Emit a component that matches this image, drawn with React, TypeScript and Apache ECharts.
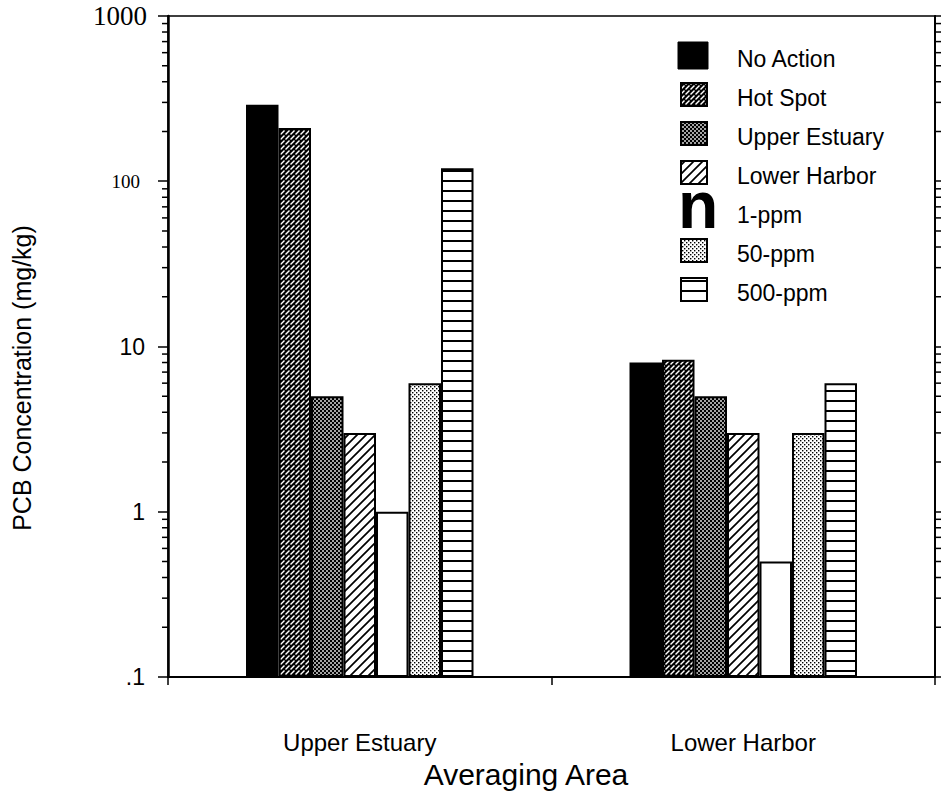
import React, { useEffect, useRef } from "react";
import * as echarts from "echarts";

// Averaging areas on the category axis
const categories = ["Upper Estuary", "Lower Harbor"];

// Remediation alternatives (one bar series each)
const seriesNames = [
  "No Action",
  "Hot Spot",
  "Upper Estuary",
  "Lower Harbor",
  "1-ppm",
  "50-ppm",
  "500-ppm",
];

// PCB concentration per averaging area, in the order of `categories`
const noAction = [290, 8];
const hotSpot = [210, 8.3];
const upperEstuary = [5, 5];
const lowerHarbor = [3, 3];
const ppm1 = [1, 0.5];
const ppm50 = [6, 3];
const ppm500 = [120, 6];

const seriesValues = [noAction, hotSpot, upperEstuary, lowerHarbor, ppm1, ppm50, ppm500];

// Decade tick labels, from 0.1 up to 1000
const yTickLabels = [".1", "1", "10", "100", "1000"];

// Log-scale minor tick multipliers inside each decade
const minorMultipliers = [2, 3, 4, 5, 6, 7, 8, 9];

type Tile = { image: string; repeat: string; imageWidth: number; imageHeight: number };

function makeTile(w: number, h: number, draw: (ctx: CanvasRenderingContext2D) => void): Tile {
  const c = document.createElement("canvas");
  c.width = w;
  c.height = h;
  const ctx = c.getContext("2d")!;
  draw(ctx);
  return { image: c.toDataURL(), repeat: "repeat", imageWidth: w, imageHeight: h };
}

function buildFills(): any[] {
  const solid = "#000000";
  const darkDiag = makeTile(5, 5, (ctx) => {
    ctx.fillStyle = "#000";
    ctx.fillRect(0, 0, 5, 5);
    ctx.strokeStyle = "#fff";
    ctx.lineWidth = 1.4;
    ctx.beginPath();
    ctx.moveTo(0.5, 4.5);
    ctx.lineTo(4.5, 0.5);
    ctx.stroke();
  });
  const checker = makeTile(4, 4, (ctx) => {
    ctx.fillStyle = "#000";
    ctx.fillRect(0, 0, 4, 4);
    ctx.fillStyle = "#fff";
    ctx.fillRect(0.2, 0.2, 1.6, 1.6);
    ctx.fillRect(2.2, 2.2, 1.6, 1.6);
  });
  const lightDiag = makeTile(9, 9, (ctx) => {
    ctx.fillStyle = "#fff";
    ctx.fillRect(0, 0, 9, 9);
    ctx.strokeStyle = "#000";
    ctx.lineWidth = 1.7;
    ctx.beginPath();
    ctx.moveTo(-1, 10);
    ctx.lineTo(10, -1);
    ctx.moveTo(-1, 1);
    ctx.lineTo(1, -1);
    ctx.moveTo(8, 10);
    ctx.lineTo(10, 8);
    ctx.stroke();
  });
  const white = "#ffffff";
  const stipple = makeTile(4, 4, (ctx) => {
    ctx.fillStyle = "#fff";
    ctx.fillRect(0, 0, 4, 4);
    ctx.fillStyle = "#000";
    ctx.fillRect(0, 0, 1.4, 1.4);
    ctx.fillRect(2, 2, 1.4, 1.4);
  });
  const hLines = makeTile(4, 10, (ctx) => {
    ctx.fillStyle = "#fff";
    ctx.fillRect(0, 0, 4, 10);
    ctx.fillStyle = "#000";
    ctx.fillRect(0, 0, 4, 2);
  });
  return [solid, darkDiag, checker, lightDiag, white, stipple, hLines];
}

export default function App() {
  const ref = useRef<HTMLDivElement>(null);

  useEffect(() => {
    document.body.style.margin = "0";
    const chart = echarts.init(ref.current!, null, { renderer: "svg" });
    const fills = buildFills();

    const minorTicks: number[][] = [];
    for (let e = -1; e < 3; e++) {
      for (const m of minorMultipliers) minorTicks.push([0, m * Math.pow(10, e)]);
    }

    const barSeries = seriesNames.map((name, i) => ({
      name,
      type: "bar",
      data: seriesValues[i],
      barWidth: 32.5,
      barGap: "0%",
      itemStyle: {
        color: fills[i],
        borderColor: "#000",
        borderWidth: 2,
      },
      emphasis: { disabled: true },
    }));

    // Legend layout
    const legendTextX = 737;
    const legendIconX = 681;
    const legendRowY = [59, 98, 137, 176, 215, 254, 293];
    const legendGraphics: any[] = [];
    seriesNames.forEach((name, i) => {
      const y = legendRowY[i];
      if (i === 4) {
        legendGraphics.push({
          type: "text",
          x: 678,
          y: 205,
          style: {
            text: "n",
            fontSize: 66,
            fontWeight: "bold",
            fontFamily: "Liberation Sans",
            fill: "#000",
            textVerticalAlign: "middle",
            textAlign: "left",
          },
        });
      } else if (i === 0) {
        legendGraphics.push({
          type: "rect",
          shape: { x: 678, y: y - 17, width: 30, height: 27 },
          style: { fill: fills[i], stroke: "#000", lineWidth: 1 },
        });
      } else {
        legendGraphics.push({
          type: "rect",
          shape: { x: legendIconX, y: y - 15, width: 26, height: 23 },
          style: { fill: fills[i], stroke: "#000", lineWidth: 2 },
        });
      }
      legendGraphics.push({
        type: "text",
        x: legendTextX,
        y,
        style: {
          text: name,
          fontSize: 23,
          fontFamily: "Liberation Sans",
          fill: "#000",
          textVerticalAlign: "middle",
          textAlign: "left",
        },
      });
    });

    const option: any = {
      animation: false,
      backgroundColor: "#fff",
      grid: {
        left: 168,
        right: 6,
        top: 16,
        bottom: 116,
        show: true,
        borderColor: "#000",
        borderWidth: 1.5,
        containLabel: false,
      },
      xAxis: {
        type: "category",
        data: categories,
        axisLine: { lineStyle: { color: "#000", width: 2 } },
        axisTick: { show: true, length: 8, interval: 0, lineStyle: { color: "#000", width: 1.5 } },
        axisLabel: {
          color: "#000",
          fontSize: 24,
          fontFamily: "Liberation Sans",
          margin: 53,
          interval: 0,
        },
        splitLine: { show: false },
      },
      yAxis: [
        {
          type: "log",
          logBase: 10,
          min: 0.1,
          max: 1000,
          startValue: 0.1,
          position: "left",
          axisLine: { show: true, lineStyle: { color: "#000", width: 2.5 } },
          axisTick: { show: true, length: 10, lineStyle: { color: "#000", width: 1.5 } },
          splitLine: { show: false },
          axisLabel: {
            margin: 21,
            formatter: (v: number) => {
              const e = Math.round(Math.log10(v));
              const txt = yTickLabels[e + 1];
              const key = e === 3 ? "big" : e === 2 ? "small" : "sans";
              return `{${key}|${txt}}`;
            },
            rich: {
              big: { fontFamily: "Liberation Serif", fontSize: 27, color: "#000" },
              small: { fontFamily: "Liberation Serif", fontSize: 19, color: "#000", padding: [0, 7, 0, 0] },
              sans: { fontFamily: "Liberation Sans", fontSize: 23, color: "#000", padding: [0, 2, 0, 0] },
            },
          },
        },
        {
          type: "log",
          logBase: 10,
          min: 0.1,
          max: 1000,
          position: "right",
          axisLine: { show: true, lineStyle: { color: "#000", width: 2 } },
          axisTick: { show: true, length: 7, lineStyle: { color: "#000", width: 1.5 } },
          axisLabel: { show: false },
          splitLine: { show: false },
        },
      ],
      series: [
        ...barSeries,
        {
          // minor log ticks along both vertical axes
          type: "custom",
          name: "minor ticks",
          xAxisIndex: 0,
          yAxisIndex: 0,
          clip: false,
          silent: true,
          data: minorTicks,
          renderItem: (params: any, api: any) => {
            const y = api.coord([0, api.value(1)])[1];
            const cs = params.coordSys;
            return {
              type: "group",
              children: [
                {
                  type: "line",
                  shape: { x1: cs.x - 6, y1: y, x2: cs.x, y2: y },
                  style: { stroke: "#000", lineWidth: 1.5 },
                },
                {
                  type: "line",
                  shape: { x1: cs.x + cs.width, y1: y, x2: cs.x + cs.width + 6, y2: y },
                  style: { stroke: "#000", lineWidth: 1.5 },
                },
              ],
            };
          },
        },
      ],
      graphic: [
        ...legendGraphics,
        {
          type: "text",
          x: 22,
          y: 378,
          rotation: Math.PI / 2,
          style: {
            text: "PCB Concentration (mg/kg)",
            fontSize: 25,
            fontFamily: "Liberation Sans",
            fill: "#000",
            textAlign: "center",
            textVerticalAlign: "middle",
          },
        },
        {
          type: "text",
          x: 526,
          y: 774,
          style: {
            text: "Averaging Area",
            fontSize: 30,
            fontFamily: "Liberation Sans",
            fill: "#000",
            textAlign: "center",
            textVerticalAlign: "middle",
          },
        },
      ],
    };

    chart.setOption(option);
    return () => chart.dispose();
  }, []);

  return <div ref={ref} style={{ width: 941, height: 793 }} />;
}
